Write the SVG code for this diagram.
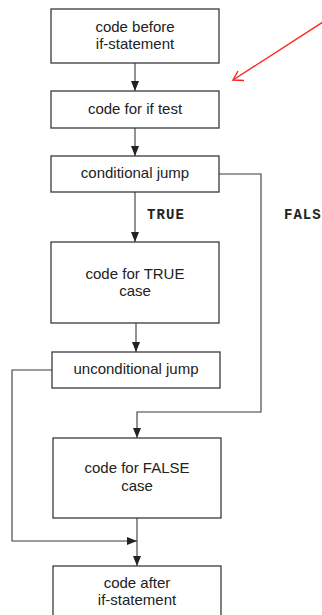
<svg xmlns="http://www.w3.org/2000/svg" width="322" height="615" viewBox="0 0 322 615">
  <style>
    .box { fill: #fff; stroke: #3a3a3a; stroke-width: 1.3; }
    .lbl { font-family: "Liberation Sans", Arial, sans-serif; font-size: 15px; fill: #222; text-anchor: middle; }
    .cond { font-family: "Liberation Mono", "Courier New", monospace; font-size: 14px; font-weight: bold; fill: #222; }
    .wire { fill: none; stroke: #3a3a3a; stroke-width: 1.1; }
    .pointer { fill: none; stroke: #f22; stroke-width: 1.4; }
  </style>
  <defs>
    <marker id="head" viewBox="0 0 10 8" refX="10" refY="4" markerWidth="10" markerHeight="8" markerUnits="userSpaceOnUse" orient="auto">
      <path d="M0,0 L10,4 L0,8 Z" fill="#222"/>
    </marker>
  </defs>
  <rect width="322" height="615" fill="#fff"/>

  <g id="connectors">
    <path class="wire" d="M135,63 V91" marker-end="url(#head)"/>
    <path class="wire" d="M135,128 V156" marker-end="url(#head)"/>
    <path class="wire" d="M135,192 V242" marker-end="url(#head)"/>
    <path class="wire" d="M136,323 V352" marker-end="url(#head)"/>
    <path class="wire" d="M219,174 H261 V412 H137 V438" marker-end="url(#head)"/>
    <path class="wire" d="M52,370 H12 V541 H137" marker-end="url(#head)"/>
    <path class="wire" d="M137,518 V566" marker-end="url(#head)"/>
    <text class="cond" x="147" y="218.5" textLength="37">TRUE</text>
    <text class="cond" x="284" y="218.5" textLength="46">FALSE</text>
  </g>

  <g id="before">
    <rect class="box" x="51" y="9" width="168" height="54"/>
    <text class="lbl" x="135" y="32">code before</text>
    <text class="lbl" x="135" y="49">if-statement</text>
  </g>
  <g id="test">
    <rect class="box" x="51" y="91" width="168" height="37"/>
    <text class="lbl" x="135" y="114">code for if test</text>
  </g>
  <g id="cjump">
    <rect class="box" x="51" y="156" width="168" height="36"/>
    <text class="lbl" x="135" y="178">conditional jump</text>
  </g>
  <g id="truecase">
    <rect class="box" x="51" y="242" width="168" height="81"/>
    <text class="lbl" x="135" y="279">code for TRUE</text>
    <text class="lbl" x="135" y="296">case</text>
  </g>
  <g id="ujump">
    <rect class="box" x="52" y="352" width="168" height="36"/>
    <text class="lbl" x="136" y="374">unconditional jump</text>
  </g>
  <g id="falsecase">
    <rect class="box" x="53" y="438" width="168" height="80"/>
    <text class="lbl" x="137" y="473">code for FALSE</text>
    <text class="lbl" x="137" y="491">case</text>
  </g>
  <g id="after">
    <rect class="box" x="53" y="566" width="168" height="60"/>
    <text class="lbl" x="137" y="588">code after</text>
    <text class="lbl" x="137" y="605">if-statement</text>
  </g>

  <g id="pointer">
    <path class="pointer" d="M323,22 L233,80"/>
    <path class="pointer" d="M238,71 L233,80 L244,80.5"/>
  </g>
</svg>
